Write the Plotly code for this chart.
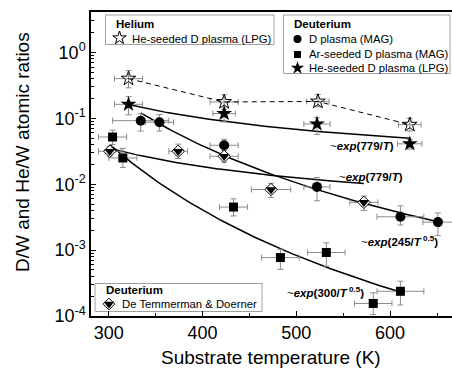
import numpy as np
import plotly.graph_objects as go

# ---------------- data ----------------
# Helium, He-seeded D plasma (LPG) - open stars
he_T = [321, 423, 523, 621]
he_y = [0.40, 0.177, 0.18, 0.080]
he_ep = [0.13, 0.05, 0.05, 0.02]
he_em = [0.11, 0.04, 0.03, 0.016]
he_ex = [15, 15, 12, 12]

# Deuterium, He-seeded D plasma (LPG) - filled stars
dhe_T = [321, 423, 522, 621]
dhe_y = [0.163, 0.118, 0.082, 0.041]
dhe_ep = [0.05, 0.03, 0.02, 0.007]
dhe_em = [0.05, 0.03, 0.025, 0.007]
dhe_ex = [15, 12, 14, 13]

# Deuterium, D plasma (MAG) - circles
dp_T = [334, 354, 423, 522, 611, 651]
dp_y = [0.092, 0.087, 0.039, 0.0091, 0.0032, 0.00266]
dp_ep = [0.025, 0.027, 0.009, 0.0035, 0.0015, 0.001]
dp_em = [0.028, 0.023, 0.009, 0.0035, 0.0008, 0.001]
dp_ex = [30, 15, 15, 14, 25, 16]

# Deuterium, Ar-seeded D plasma (MAG) - squares
ar_T = [304, 315, 433, 483, 532, 611, 582]
ar_y = [0.052, 0.025, 0.0045, 0.00077, 0.00092, 0.000237, 0.000155]
ar_ep = [0.014, 0.010, 0.0015, 0.00026, 0.00037, 0.0001, 0.00007]
ar_em = [0.012, 0.007, 0.0012, 0.00026, 0.00035, 0.00009, 0.00005]
ar_ex = [15, 15, 15, 20, 20, 25, 20]

# Deuterium, De Temmerman & Doerner - half-filled diamonds
dt_T = [301, 374, 423, 473, 572]
dt_y = [0.0316, 0.0316, 0.0265, 0.0083, 0.0053]
dt_ep = [0.006, 0.009, 0.006, 0.002, 0.0013]
dt_em = [0.005, 0.007, 0.005, 0.002, 0.0013]
dt_ex = [12, 10, 15, 21, 15]

# Fit curves: y = y0 * exp(B * (T^-p - T0^-p)), drawn over [T0, T1]
fit_he = dict(T0=322, T1=621, y0=0.16, B=779, p=1.0)
fit_dt = dict(T0=299, T1=572, y0=0.0356, B=779, p=1.0)
fit_dp = dict(T0=334, T1=651, y0=0.121, B=245, p=0.5)
fit_ar = dict(T0=301, T1=611, y0=0.040, B=300, p=0.5)

y_tick_vals = [1e-4, 1e-3, 1e-2, 1e-1, 1]
y_tick_text = ["10<sup>-4</sup>", "10<sup>-3</sup>", "10<sup>-2</sup>", "10<sup>-1</sup>", "10<sup>0</sup>"]
x_tick_vals = [300, 400, 500, 600]

FONT = "Liberation Sans, Arial, sans-serif"
ERRC = "#8c8c8c"

fig = go.Figure()


def fit_curve(f):
    T = np.linspace(f["T0"], f["T1"], 80)
    y = f["y0"] * np.exp(f["B"] * (T ** (-f["p"]) - f["T0"] ** (-f["p"])))
    return T, y


for f in (fit_he, fit_dt, fit_dp, fit_ar):
    T, y = fit_curve(f)
    fig.add_trace(go.Scatter(x=T, y=y, mode="lines",
                             line=dict(color="black", width=1.5),
                             showlegend=False, hoverinfo="skip"))


def err(ep, em, ex):
    return dict(
        error_y=dict(type="data", array=ep, arrayminus=em, color=ERRC, thickness=1, width=3),
        error_x=dict(type="data", array=ex, color=ERRC, thickness=1, width=3),
    )


# open stars with dashed connecting line
fig.add_trace(go.Scatter(x=he_T, y=he_y, mode="lines+markers",
                         line=dict(color="black", width=1, dash="5px,4px"),
                         marker=dict(symbol="star-open", size=11, color="black", line=dict(width=1)),
                         showlegend=False, **err(he_ep, he_em, he_ex)))
fig.add_trace(go.Scatter(x=dhe_T, y=dhe_y, mode="markers",
                         marker=dict(symbol="star", size=12, color="black"),
                         showlegend=False, **err(dhe_ep, dhe_em, dhe_ex)))
fig.add_trace(go.Scatter(x=dp_T, y=dp_y, mode="markers",
                         marker=dict(symbol="circle", size=10, color="black"),
                         showlegend=False, **err(dp_ep, dp_em, dp_ex)))
fig.add_trace(go.Scatter(x=ar_T, y=ar_y, mode="markers",
                         marker=dict(symbol="square", size=9, color="black"),
                         showlegend=False, **err(ar_ep, ar_em, ar_ex)))
fig.add_trace(go.Scatter(x=dt_T, y=dt_y, mode="markers",
                         marker=dict(symbol="diamond", size=9.5, color="white",
                                     line=dict(color="black", width=1)),
                         showlegend=False, **err(dt_ep, dt_em, dt_ex)))
fig.add_trace(go.Scatter(x=dt_T, y=dt_y, mode="markers",
                         marker=dict(symbol="triangle-down", size=9.5, color="black"),
                         showlegend=False, hoverinfo="skip"))

# ---------------- legend boxes (paper coords via overlay axes) ----------------
W, H = 452, 374
ML, MR, MT, MB = 91, 0, 12, 58
PW, PH = W - ML - MR, H - MT - MB


def px(x):
    return (x - ML) / PW


def py(y):
    return (H - MB - y) / PH


boxes = [(105.5, 15, 274, 44.5), (283.5, 15, 450, 73.5), (95, 283.5, 262, 311.5)]
shapes = []
for x0, y0, x1, y1 in boxes:
    shapes.append(dict(type="rect", xref="paper", yref="paper",
                       x0=px(x0), x1=px(x1), y0=py(y1), y1=py(y0),
                       line=dict(color="#a0a0a0", width=1), fillcolor="white", layer="below"))

leg_markers = [
    (119.5, 38, "star-open", 10, "black", None),
    (297.5, 39, "circle", 8, "black", None),
    (297.5, 54.5, "square", 7, "black", None),
    (297.5, 68, "star", 10, "black", None),
    (109, 304, "diamond", 9, "white", "black"),
    (109, 304, "triangle-down", 9, "black", None),
]
for x, y, sym, sz, col, lc in leg_markers:
    mk = dict(symbol=sym, size=sz, color=col)
    if lc:
        mk["line"] = dict(color=lc, width=1)
    elif sym == "star-open":
        mk["line"] = dict(width=1, color="black")
    fig.add_trace(go.Scatter(x=[px(x)], y=[py(y)], xaxis="x2", yaxis="y2", mode="markers",
                             marker=mk, showlegend=False, hoverinfo="skip"))

annotations = []


def txt(x, y, s, size=11.3, bold=False, anchor="left"):
    annotations.append(dict(xref="paper", yref="paper", x=px(x), y=py(y), text=("<b>%s</b>" % s) if bold else s,
                            showarrow=False, xanchor=anchor, yanchor="middle", borderpad=0,
                            font=dict(family=FONT, size=size, color="black")))


txt(115, 24, "Helium", 11.5, True)
txt(130.5, 38.5, "He-seeded D plasma (LPG)")
txt(292.5, 24, "Deuterium", 11.5, True)
txt(307.5, 39, "D plasma (MAG)")
txt(307.5, 54.5, "Ar-seeded D plasma (MAG)")
txt(307.5, 68.5, "He-seeded D plasma (LPG)")
txt(104.5, 289.5, "Deuterium", 11.5, True)
txt(120.5, 304, "De Temmerman &amp; Doerner")

# fit labels
txt(362, 146, "~<b><i>exp</i>(779/<i>T</i>)</b>", 11.5, False, "center")
txt(371, 177, "~<b><i>exp</i>(779/<i>T</i>)</b>", 11.5, False, "center")
txt(399, 241, "~<b><i>exp</i>(245/<i>T</i><sup> 0.5</sup>)</b>", 11.5, False, "center")
txt(325, 292, "~<b><i>exp</i>(300/<i>T</i><sup> 0.5</sup>)</b>", 11.5, False, "center")

# axis titles
annotations.append(dict(xref="paper", yref="paper", x=px(271), y=py(357), text="Substrate temperature (K)",
                        showarrow=False, xanchor="center", yanchor="middle",
                        font=dict(family=FONT, size=19, color="black")))
annotations.append(dict(xref="paper", yref="paper", x=px(22), y=py(152), text="D/W and He/W atomic ratios",
                        showarrow=False, xanchor="center", yanchor="middle", textangle=-90,
                        font=dict(family=FONT, size=19, color="black")))

y_minor = [k * 10.0 ** e for e in range(-4, 1) for k in range(2, 10) if k * 10.0 ** e < 4.2]

fig.update_layout(
    width=W, height=H,
    margin=dict(l=ML, r=MR, t=MT, b=MB),
    paper_bgcolor="white", plot_bgcolor="white",
    font=dict(family=FONT, color="black"),
    showlegend=False,
    xaxis=dict(range=[281, 666], tickvals=x_tick_vals, ticks="inside", ticklen=5, tickwidth=1,
               tickcolor="black", showgrid=False, zeroline=False, showline=True, linecolor="black",
               linewidth=1.5, mirror=True, tickfont=dict(size=18, family=FONT),
               minor=dict(tickvals=[350, 450, 550, 650], ticks="inside", ticklen=3, tickcolor="black",
                          showgrid=False)),
    yaxis=dict(type="log", range=[-4, 0.613], tickvals=y_tick_vals, ticktext=y_tick_text,
               ticks="inside", ticklen=5, tickwidth=1, tickcolor="black", showgrid=False,
               zeroline=False, showline=True, linecolor="black", linewidth=1.5,
               tickfont=dict(size=18, family=FONT),
               minor=dict(tickvals=y_minor, ticks="inside", ticklen=3, tickcolor="black", showgrid=False)),
    xaxis2=dict(overlaying="x", range=[0, 1], visible=False),
    yaxis2=dict(overlaying="y", range=[0, 1], visible=False),
    shapes=shapes,
    annotations=annotations,
)

fig.write_html("out.html")
